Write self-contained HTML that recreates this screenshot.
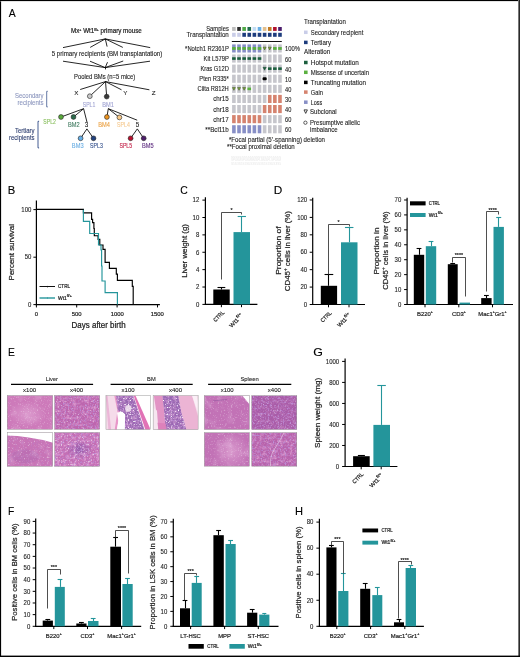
<!DOCTYPE html><html><head><meta charset="utf-8"><title>Figure</title><style>html,body{margin:0;padding:0;background:#fff;width:520px;height:657px;overflow:hidden;}svg{display:block;will-change:transform;}text{font-family:"Liberation Sans", sans-serif;}</style></head><body><svg width="520" height="657" viewBox="0 0 520 657" font-family='"Liberation Sans", sans-serif' shape-rendering="geometricPrecision"><rect x="0.00" y="0.00" width="520.00" height="657.00" fill="#fff"/>
<rect x="0.00" y="0.00" width="1.10" height="657.00" fill="#000"/>
<rect x="0.00" y="0.00" width="520.00" height="1.00" fill="#000"/>
<rect x="0.00" y="1.00" width="518.00" height="0.40" fill="#bbb"/>
<rect x="518.00" y="0.00" width="1.00" height="657.00" fill="#777"/>
<rect x="519.00" y="0.00" width="1.00" height="657.00" fill="#2a2a2a"/>
<rect x="0.00" y="655.60" width="520.00" height="1.40" fill="#000"/>
<defs><filter id="w1" x="0" y="0" width="100%" height="100%"><feTurbulence type="fractalNoise" baseFrequency="0.7" numOctaves="2" seed="3"/><feColorMatrix type="matrix" values="0 0 0 0 1  0 0 0 0 1  0 0 0 0 1  4 0 0 0 -2.3"/></filter><filter id="p1" x="0" y="0" width="100%" height="100%"><feTurbulence type="fractalNoise" baseFrequency="0.6" numOctaves="2" seed="5"/><feColorMatrix type="matrix" values="0 0 0 0 0.5  0 0 0 0 0.25  0 0 0 0 0.65  0 4 0 0 -2.1"/></filter><filter id="m1" x="0" y="0" width="100%" height="100%"><feTurbulence type="fractalNoise" baseFrequency="0.12" numOctaves="2" seed="9"/><feColorMatrix type="matrix" values="0 0 0 0 1  0 0 0 0 0.85  0 0 0 0 1  0 0 2 0 -1.0"/></filter><filter id="q1" x="0" y="0" width="100%" height="100%"><feTurbulence type="fractalNoise" baseFrequency="0.3" numOctaves="2" seed="11"/><feColorMatrix type="matrix" values="0 0 0 0 0.95  0 0 0 0 0.55  0 0 0 0 0.85  2.5 0 0 0 -1.1"/></filter><radialGradient id="rgl"><stop offset="0" stop-color="#e2a8d6" stop-opacity="0.7"/><stop offset="1" stop-color="#e2a8d6" stop-opacity="0"/></radialGradient><radialGradient id="rgp"><stop offset="0" stop-color="#8a58aa" stop-opacity="0.8"/><stop offset="1" stop-color="#8a58aa" stop-opacity="0"/></radialGradient></defs>
<text x="0" y="0" font-size="10.9" fill="#000" stroke="#000" stroke-width="0.12" transform="translate(8.68,16.70) scale(0.955,1)">A</text>
<text x="71" y="33.2" font-size="6.3" fill="#222" stroke="#222" stroke-width="0.2" textLength="70.8" lengthAdjust="spacingAndGlyphs">Mx<tspan font-size="3.6" dy="-2.4">+</tspan><tspan dy="2.4"> </tspan>Wt1<tspan font-size="3.4" dy="-2.6">fl/+</tspan><tspan dy="2.6"> primary mouse</tspan></text>
<line x1="105.30" y1="38.90" x2="63.00" y2="47.60" stroke="#000" stroke-width="0.85"/>
<line x1="105.30" y1="38.90" x2="90.20" y2="47.40" stroke="#000" stroke-width="0.85"/>
<line x1="105.30" y1="38.90" x2="107.10" y2="46.60" stroke="#000" stroke-width="0.85"/>
<line x1="105.30" y1="38.90" x2="122.80" y2="47.40" stroke="#000" stroke-width="0.85"/>
<line x1="105.30" y1="38.90" x2="150.20" y2="47.60" stroke="#000" stroke-width="0.85"/>
<text x="51.70" y="56.30" font-size="6.3" text-anchor="start" fill="#222" stroke="#222" stroke-width="0.1" textLength="110.60" lengthAdjust="spacingAndGlyphs">5 primary recipients (BM transplantation)</text>
<line x1="105.20" y1="67.60" x2="63.00" y2="61.20" stroke="#000" stroke-width="0.85"/>
<line x1="105.20" y1="67.60" x2="90.00" y2="61.20" stroke="#000" stroke-width="0.85"/>
<line x1="105.20" y1="67.60" x2="107.50" y2="62.20" stroke="#000" stroke-width="0.85"/>
<line x1="105.20" y1="67.60" x2="123.20" y2="61.00" stroke="#000" stroke-width="0.85"/>
<line x1="105.20" y1="67.60" x2="150.00" y2="61.20" stroke="#000" stroke-width="0.85"/>
<line x1="105.50" y1="67.60" x2="105.50" y2="69.40" stroke="#000" stroke-width="0.85"/>
<text x="74.00" y="78.50" font-size="6.3" text-anchor="start" fill="#222" stroke="#222" stroke-width="0.1" textLength="61.30" lengthAdjust="spacingAndGlyphs">Pooled BMs (n=5 mice)</text>
<line x1="105.50" y1="81.60" x2="80.20" y2="89.50" stroke="#000" stroke-width="0.85"/>
<line x1="105.50" y1="81.60" x2="89.80" y2="96.20" stroke="#000" stroke-width="0.85"/>
<line x1="105.50" y1="81.60" x2="106.70" y2="96.60" stroke="#000" stroke-width="0.85"/>
<line x1="105.50" y1="81.60" x2="121.50" y2="89.80" stroke="#000" stroke-width="0.85"/>
<line x1="105.50" y1="81.60" x2="149.40" y2="89.80" stroke="#000" stroke-width="0.85"/>
<text x="76.30" y="95.20" font-size="6.2" text-anchor="middle" fill="#222" stroke="#222" stroke-width="0.1">X</text>
<text x="125.40" y="95.20" font-size="6.2" text-anchor="middle" fill="#222" stroke="#222" stroke-width="0.1">Y</text>
<text x="153.70" y="95.20" font-size="6.2" text-anchor="middle" fill="#222" stroke="#222" stroke-width="0.1">Z</text>
<circle cx="89.80" cy="96.20" r="2.40" fill="#c9c9c9" stroke="#222" stroke-width="0.6"/>
<circle cx="106.70" cy="96.60" r="2.40" fill="#3a3a3a" stroke="#222" stroke-width="0.6"/>
<text x="89.00" y="106.60" font-size="6.3" text-anchor="middle" fill="#9fa2d2" stroke="#9fa2d2" stroke-width="0.1" textLength="12.50" lengthAdjust="spacingAndGlyphs">SPL1</text>
<text x="108.00" y="106.60" font-size="6.3" text-anchor="middle" fill="#9fa2d2" stroke="#9fa2d2" stroke-width="0.1" textLength="11.70" lengthAdjust="spacingAndGlyphs">BM1</text>
<line x1="83.60" y1="108.70" x2="61.00" y2="117.00" stroke="#000" stroke-width="0.85"/>
<line x1="83.60" y1="108.70" x2="73.50" y2="117.00" stroke="#000" stroke-width="0.85"/>
<line x1="83.60" y1="108.70" x2="87.00" y2="122.20" stroke="#000" stroke-width="0.85"/>
<line x1="108.30" y1="108.70" x2="106.90" y2="117.00" stroke="#000" stroke-width="0.85"/>
<line x1="108.30" y1="108.70" x2="119.40" y2="117.40" stroke="#000" stroke-width="0.85"/>
<line x1="108.30" y1="108.70" x2="137.20" y2="120.20" stroke="#000" stroke-width="0.85"/>
<circle cx="61.00" cy="117.00" r="2.40" fill="#5aab3c" stroke="#222" stroke-width="0.6"/>
<circle cx="73.50" cy="117.00" r="2.40" fill="#2d6b4c" stroke="#222" stroke-width="0.6"/>
<circle cx="106.90" cy="117.00" r="2.40" fill="#ec9420" stroke="#222" stroke-width="0.6"/>
<circle cx="119.40" cy="117.40" r="2.40" fill="#f7c887" stroke="#222" stroke-width="0.6"/>
<text x="49.60" y="123.50" font-size="6.3" text-anchor="middle" fill="#86bd5a" stroke="#86bd5a" stroke-width="0.1" textLength="12.50" lengthAdjust="spacingAndGlyphs">SPL2</text>
<text x="73.90" y="126.90" font-size="6.3" text-anchor="middle" fill="#3f7a5f" stroke="#3f7a5f" stroke-width="0.1" textLength="11.70" lengthAdjust="spacingAndGlyphs">BM2</text>
<text x="86.60" y="126.90" font-size="6.3" text-anchor="middle" fill="#222" stroke="#222" stroke-width="0.1">3</text>
<text x="104.10" y="126.90" font-size="6.3" text-anchor="middle" fill="#eba042" stroke="#eba042" stroke-width="0.1" textLength="11.70" lengthAdjust="spacingAndGlyphs">BM4</text>
<text x="123.40" y="126.90" font-size="6.3" text-anchor="middle" fill="#f5c98f" stroke="#f5c98f" stroke-width="0.1" textLength="12.80" lengthAdjust="spacingAndGlyphs">SPL4</text>
<text x="137.50" y="126.90" font-size="6.3" text-anchor="middle" fill="#222" stroke="#222" stroke-width="0.1">5</text>
<line x1="86.90" y1="128.90" x2="80.60" y2="138.30" stroke="#000" stroke-width="0.85"/>
<line x1="86.90" y1="128.90" x2="93.50" y2="138.30" stroke="#000" stroke-width="0.85"/>
<line x1="137.30" y1="128.90" x2="130.60" y2="138.30" stroke="#000" stroke-width="0.85"/>
<line x1="137.30" y1="128.90" x2="143.70" y2="138.30" stroke="#000" stroke-width="0.85"/>
<circle cx="80.60" cy="138.30" r="2.40" fill="#64aee6" stroke="#222" stroke-width="0.6"/>
<circle cx="93.50" cy="138.30" r="2.40" fill="#23427e" stroke="#222" stroke-width="0.6"/>
<circle cx="130.60" cy="138.30" r="2.40" fill="#b7122f" stroke="#222" stroke-width="0.6"/>
<circle cx="143.70" cy="138.30" r="2.40" fill="#4d1e6b" stroke="#222" stroke-width="0.6"/>
<text x="77.70" y="147.50" font-size="6.3" text-anchor="middle" fill="#6aaee3" stroke="#6aaee3" stroke-width="0.1" textLength="11.70" lengthAdjust="spacingAndGlyphs">BM3</text>
<text x="96.50" y="147.50" font-size="6.3" text-anchor="middle" fill="#34508c" stroke="#34508c" stroke-width="0.1" textLength="12.80" lengthAdjust="spacingAndGlyphs">SPL3</text>
<text x="125.80" y="147.50" font-size="6.3" text-anchor="middle" fill="#c21d45" stroke="#c21d45" stroke-width="0.1" textLength="12.80" lengthAdjust="spacingAndGlyphs">SPL5</text>
<text x="147.90" y="147.50" font-size="6.3" text-anchor="middle" fill="#5f2f80" stroke="#5f2f80" stroke-width="0.1" textLength="11.70" lengthAdjust="spacingAndGlyphs">BM5</text>
<text x="43.60" y="97.70" font-size="6.3" text-anchor="end" fill="#8e98bf" stroke="#8e98bf" stroke-width="0.1" textLength="28.60" lengthAdjust="spacingAndGlyphs">Secondary</text>
<text x="43.60" y="105.30" font-size="6.3" text-anchor="end" fill="#8e98bf" stroke="#8e98bf" stroke-width="0.1" textLength="26.00" lengthAdjust="spacingAndGlyphs">recipients</text>
<path d="M47.8,91.3 h-1.1 v15.6 h1.1" fill="none" stroke="#566b9d" stroke-width="0.9"/>
<text x="34.60" y="133.00" font-size="6.3" text-anchor="end" fill="#2b3c6e" stroke="#2b3c6e" stroke-width="0.1" textLength="19.60" lengthAdjust="spacingAndGlyphs">Tertiary</text>
<text x="34.60" y="140.40" font-size="6.3" text-anchor="end" fill="#2b3c6e" stroke="#2b3c6e" stroke-width="0.1" textLength="25.60" lengthAdjust="spacingAndGlyphs">recipients</text>
<path d="M39.1,121.3 h-1.1 v26.6 h1.1" fill="none" stroke="#2f4a86" stroke-width="0.9"/>
<rect x="232.10" y="27.00" width="3.60" height="3.90" fill="#bdbdbd"/>
<rect x="232.10" y="32.80" width="3.60" height="4.00" fill="#c9cde8"/>
<rect x="237.22" y="27.00" width="3.60" height="3.90" fill="#2e2e2e"/>
<rect x="237.22" y="32.80" width="3.60" height="4.00" fill="#c9cde8"/>
<rect x="242.34" y="27.00" width="3.60" height="3.90" fill="#4ea846"/>
<rect x="242.34" y="32.80" width="3.60" height="4.00" fill="#1d3c7d"/>
<rect x="247.46" y="27.00" width="3.60" height="3.90" fill="#1f6a4a"/>
<rect x="247.46" y="32.80" width="3.60" height="4.00" fill="#1d3c7d"/>
<rect x="252.58" y="27.00" width="3.60" height="3.90" fill="#c2dcf4"/>
<rect x="252.58" y="32.80" width="3.60" height="4.00" fill="#1d3c7d"/>
<rect x="257.70" y="27.00" width="3.60" height="3.90" fill="#66aee6"/>
<rect x="257.70" y="32.80" width="3.60" height="4.00" fill="#1d3c7d"/>
<rect x="262.82" y="27.00" width="3.60" height="3.90" fill="#e2bf8c"/>
<rect x="262.82" y="32.80" width="3.60" height="4.00" fill="#1d3c7d"/>
<rect x="267.94" y="27.00" width="3.60" height="3.90" fill="#c27b22"/>
<rect x="267.94" y="32.80" width="3.60" height="4.00" fill="#1d3c7d"/>
<rect x="273.06" y="27.00" width="3.60" height="3.90" fill="#b1102d"/>
<rect x="273.06" y="32.80" width="3.60" height="4.00" fill="#1d3c7d"/>
<rect x="278.18" y="27.00" width="3.60" height="3.90" fill="#4a1b6b"/>
<rect x="278.18" y="32.80" width="3.60" height="4.00" fill="#1d3c7d"/>
<line x1="231.80" y1="41.50" x2="281.80" y2="41.50" stroke="#111" stroke-width="1.0"/>
<text x="228.80" y="30.90" font-size="6.4" text-anchor="end" fill="#222" stroke="#222" stroke-width="0.1" textLength="22.60" lengthAdjust="spacingAndGlyphs">Samples</text>
<text x="228.80" y="36.60" font-size="6.4" text-anchor="end" fill="#222" stroke="#222" stroke-width="0.1" textLength="42.20" lengthAdjust="spacingAndGlyphs">Transplantation</text>
<text x="228.80" y="50.95" font-size="6.4" text-anchor="end" fill="#222" stroke="#222" stroke-width="0.1" textLength="43.70" lengthAdjust="spacingAndGlyphs">*Notch1 R2361P</text>
<text x="285.00" y="51.45" font-size="6.4" text-anchor="start" fill="#222" stroke="#222" stroke-width="0.1" textLength="15.00" lengthAdjust="spacingAndGlyphs">100%</text>
<rect x="232.10" y="44.40" width="3.60" height="8.10" fill="#888fc6"/>
<rect x="232.10" y="47.05" width="3.60" height="2.80" fill="#5bb040"/>
<rect x="237.22" y="44.40" width="3.60" height="8.10" fill="#888fc6"/>
<rect x="237.22" y="47.05" width="3.60" height="2.80" fill="#5bb040"/>
<rect x="242.34" y="44.40" width="3.60" height="8.10" fill="#888fc6"/>
<rect x="242.34" y="47.05" width="3.60" height="2.80" fill="#5bb040"/>
<rect x="247.46" y="44.40" width="3.60" height="8.10" fill="#888fc6"/>
<rect x="247.46" y="47.05" width="3.60" height="2.80" fill="#5bb040"/>
<rect x="252.58" y="44.40" width="3.60" height="8.10" fill="#888fc6"/>
<rect x="252.58" y="47.05" width="3.60" height="2.80" fill="#5bb040"/>
<rect x="257.70" y="44.40" width="3.60" height="8.10" fill="#888fc6"/>
<rect x="257.70" y="47.05" width="3.60" height="2.80" fill="#5bb040"/>
<rect x="262.82" y="44.40" width="3.60" height="8.10" fill="#c6c6cc"/>
<path d="M263.12,47.15 L266.12,47.15 L264.62,49.95 Z" fill="#7fae3a" stroke="#3d4a20" stroke-width="0.5"/>
<rect x="267.94" y="44.40" width="3.60" height="8.10" fill="#c6c6cc"/>
<path d="M268.24,47.15 L271.24,47.15 L269.74,49.95 Z" fill="#7fae3a" stroke="#3d4a20" stroke-width="0.5"/>
<rect x="273.06" y="44.40" width="3.60" height="8.10" fill="#c6c6cc"/>
<rect x="273.06" y="47.05" width="3.60" height="2.80" fill="#5bb040"/>
<rect x="278.18" y="44.40" width="3.60" height="8.10" fill="#c6c6cc"/>
<rect x="278.18" y="47.05" width="3.60" height="2.80" fill="#5bb040"/>
<text x="228.80" y="61.05" font-size="6.4" text-anchor="end" fill="#222" stroke="#222" stroke-width="0.1" textLength="25.20" lengthAdjust="spacingAndGlyphs">Kit L579P</text>
<text x="285.00" y="61.55" font-size="6.4" text-anchor="start" fill="#222" stroke="#222" stroke-width="0.1" textLength="6.30" lengthAdjust="spacingAndGlyphs">60</text>
<rect x="232.10" y="54.50" width="3.60" height="8.10" fill="#c6c6cc"/>
<rect x="232.10" y="57.25" width="3.60" height="2.60" fill="#1c5f3e"/>
<rect x="237.22" y="54.50" width="3.60" height="8.10" fill="#c6c6cc"/>
<rect x="237.22" y="57.25" width="3.60" height="2.60" fill="#1c5f3e"/>
<rect x="242.34" y="54.50" width="3.60" height="8.10" fill="#c6c6cc"/>
<rect x="242.34" y="57.25" width="3.60" height="2.60" fill="#1c5f3e"/>
<rect x="247.46" y="54.50" width="3.60" height="8.10" fill="#c6c6cc"/>
<rect x="247.46" y="57.25" width="3.60" height="2.60" fill="#1c5f3e"/>
<rect x="252.58" y="54.50" width="3.60" height="8.10" fill="#c6c6cc"/>
<rect x="252.58" y="57.25" width="3.60" height="2.60" fill="#1c5f3e"/>
<rect x="257.70" y="54.50" width="3.60" height="8.10" fill="#c6c6cc"/>
<rect x="257.70" y="57.25" width="3.60" height="2.60" fill="#1c5f3e"/>
<rect x="262.82" y="54.50" width="3.60" height="8.10" fill="#c6c6cc"/>
<rect x="267.94" y="54.50" width="3.60" height="8.10" fill="#c6c6cc"/>
<rect x="273.06" y="54.50" width="3.60" height="8.10" fill="#c6c6cc"/>
<rect x="278.18" y="54.50" width="3.60" height="8.10" fill="#c6c6cc"/>
<text x="228.80" y="71.15" font-size="6.4" text-anchor="end" fill="#222" stroke="#222" stroke-width="0.1" textLength="28.40" lengthAdjust="spacingAndGlyphs">Kras G12D</text>
<text x="285.00" y="71.65" font-size="6.4" text-anchor="start" fill="#222" stroke="#222" stroke-width="0.1" textLength="6.30" lengthAdjust="spacingAndGlyphs">40</text>
<rect x="232.10" y="64.60" width="3.60" height="8.10" fill="#c6c6cc"/>
<rect x="237.22" y="64.60" width="3.60" height="8.10" fill="#c6c6cc"/>
<rect x="242.34" y="64.60" width="3.60" height="8.10" fill="#c6c6cc"/>
<rect x="247.46" y="64.60" width="3.60" height="8.10" fill="#c6c6cc"/>
<rect x="252.58" y="64.60" width="3.60" height="8.10" fill="#c6c6cc"/>
<rect x="257.70" y="64.60" width="3.60" height="8.10" fill="#c6c6cc"/>
<rect x="262.82" y="64.60" width="3.60" height="8.10" fill="#c6c6cc"/>
<path d="M262.92,67.25 L266.32,67.25 L264.62,70.25 Z" fill="#1c5f3e" stroke="#153d2a" stroke-width="0.4"/>
<rect x="267.94" y="64.60" width="3.60" height="8.10" fill="#c6c6cc"/>
<rect x="267.94" y="67.35" width="3.60" height="2.60" fill="#1c5f3e"/>
<rect x="273.06" y="64.60" width="3.60" height="8.10" fill="#c6c6cc"/>
<rect x="273.06" y="67.35" width="3.60" height="2.60" fill="#1c5f3e"/>
<rect x="278.18" y="64.60" width="3.60" height="8.10" fill="#c6c6cc"/>
<rect x="278.18" y="67.35" width="3.60" height="2.60" fill="#1c5f3e"/>
<text x="228.80" y="81.25" font-size="6.4" text-anchor="end" fill="#222" stroke="#222" stroke-width="0.1" textLength="29.50" lengthAdjust="spacingAndGlyphs">Pten R335*</text>
<text x="285.00" y="81.75" font-size="6.4" text-anchor="start" fill="#222" stroke="#222" stroke-width="0.1" textLength="6.30" lengthAdjust="spacingAndGlyphs">10</text>
<rect x="232.10" y="74.70" width="3.60" height="8.10" fill="#c6c6cc"/>
<rect x="237.22" y="74.70" width="3.60" height="8.10" fill="#c6c6cc"/>
<rect x="242.34" y="74.70" width="3.60" height="8.10" fill="#c6c6cc"/>
<rect x="247.46" y="74.70" width="3.60" height="8.10" fill="#c6c6cc"/>
<rect x="252.58" y="74.70" width="3.60" height="8.10" fill="#c6c6cc"/>
<rect x="257.70" y="74.70" width="3.60" height="8.10" fill="#c6c6cc"/>
<rect x="262.82" y="74.70" width="3.60" height="8.10" fill="#c6c6cc"/>
<rect x="262.52" y="77.35" width="4.20" height="2.8" rx="1.2" fill="#000"/>
<rect x="267.94" y="74.70" width="3.60" height="8.10" fill="#c6c6cc"/>
<rect x="273.06" y="74.70" width="3.60" height="8.10" fill="#c6c6cc"/>
<rect x="278.18" y="74.70" width="3.60" height="8.10" fill="#c6c6cc"/>
<text x="228.80" y="91.35" font-size="6.4" text-anchor="end" fill="#222" stroke="#222" stroke-width="0.1" textLength="31.20" lengthAdjust="spacingAndGlyphs">Ciita R812H</text>
<text x="285.00" y="91.85" font-size="6.4" text-anchor="start" fill="#222" stroke="#222" stroke-width="0.1" textLength="6.30" lengthAdjust="spacingAndGlyphs">40</text>
<rect x="232.10" y="84.80" width="3.60" height="8.10" fill="#c6c6cc"/>
<path d="M232.40,87.55 L235.40,87.55 L233.90,90.35 Z" fill="#7fae3a" stroke="#3d4a20" stroke-width="0.5"/>
<rect x="237.22" y="84.80" width="3.60" height="8.10" fill="#c6c6cc"/>
<path d="M237.52,87.55 L240.52,87.55 L239.02,90.35 Z" fill="#7fae3a" stroke="#3d4a20" stroke-width="0.5"/>
<rect x="242.34" y="84.80" width="3.60" height="8.10" fill="#c6c6cc"/>
<path d="M242.64,87.55 L245.64,87.55 L244.14,90.35 Z" fill="#7fae3a" stroke="#3d4a20" stroke-width="0.5"/>
<rect x="247.46" y="84.80" width="3.60" height="8.10" fill="#c6c6cc"/>
<rect x="247.46" y="87.55" width="3.60" height="2.60" fill="#5bb040"/>
<rect x="252.58" y="84.80" width="3.60" height="8.10" fill="#c6c6cc"/>
<rect x="257.70" y="84.80" width="3.60" height="8.10" fill="#c6c6cc"/>
<rect x="262.82" y="84.80" width="3.60" height="8.10" fill="#c6c6cc"/>
<rect x="267.94" y="84.80" width="3.60" height="8.10" fill="#c6c6cc"/>
<rect x="273.06" y="84.80" width="3.60" height="8.10" fill="#c6c6cc"/>
<rect x="278.18" y="84.80" width="3.60" height="8.10" fill="#c6c6cc"/>
<text x="228.80" y="101.45" font-size="6.4" text-anchor="end" fill="#222" stroke="#222" stroke-width="0.1" textLength="15.60" lengthAdjust="spacingAndGlyphs">chr15</text>
<text x="285.00" y="101.95" font-size="6.4" text-anchor="start" fill="#222" stroke="#222" stroke-width="0.1" textLength="6.30" lengthAdjust="spacingAndGlyphs">30</text>
<rect x="232.10" y="94.90" width="3.60" height="8.10" fill="#c6c6cc"/>
<rect x="237.22" y="94.90" width="3.60" height="8.10" fill="#c6c6cc"/>
<rect x="242.34" y="94.90" width="3.60" height="8.10" fill="#c6c6cc"/>
<rect x="247.46" y="94.90" width="3.60" height="8.10" fill="#c6c6cc"/>
<rect x="252.58" y="94.90" width="3.60" height="8.10" fill="#c6c6cc"/>
<rect x="257.70" y="94.90" width="3.60" height="8.10" fill="#c6c6cc"/>
<rect x="262.82" y="94.90" width="3.60" height="8.10" fill="#c6c6cc"/>
<rect x="267.94" y="94.90" width="3.60" height="8.10" fill="#d5836f"/>
<rect x="273.06" y="94.90" width="3.60" height="8.10" fill="#d5836f"/>
<rect x="278.18" y="94.90" width="3.60" height="8.10" fill="#d5836f"/>
<text x="228.80" y="111.55" font-size="6.4" text-anchor="end" fill="#222" stroke="#222" stroke-width="0.1" textLength="15.60" lengthAdjust="spacingAndGlyphs">chr18</text>
<text x="285.00" y="112.05" font-size="6.4" text-anchor="start" fill="#222" stroke="#222" stroke-width="0.1" textLength="6.30" lengthAdjust="spacingAndGlyphs">40</text>
<rect x="232.10" y="105.00" width="3.60" height="8.10" fill="#c6c6cc"/>
<rect x="237.22" y="105.00" width="3.60" height="8.10" fill="#c6c6cc"/>
<rect x="242.34" y="105.00" width="3.60" height="8.10" fill="#c6c6cc"/>
<rect x="247.46" y="105.00" width="3.60" height="8.10" fill="#c6c6cc"/>
<rect x="252.58" y="105.00" width="3.60" height="8.10" fill="#c6c6cc"/>
<rect x="257.70" y="105.00" width="3.60" height="8.10" fill="#c6c6cc"/>
<rect x="262.82" y="105.00" width="3.60" height="8.10" fill="#d5836f"/>
<rect x="267.94" y="105.00" width="3.60" height="8.10" fill="#d5836f"/>
<rect x="273.06" y="105.00" width="3.60" height="8.10" fill="#d5836f"/>
<rect x="278.18" y="105.00" width="3.60" height="8.10" fill="#d5836f"/>
<text x="228.80" y="121.65" font-size="6.4" text-anchor="end" fill="#222" stroke="#222" stroke-width="0.1" textLength="15.60" lengthAdjust="spacingAndGlyphs">chr17</text>
<text x="285.00" y="122.15" font-size="6.4" text-anchor="start" fill="#222" stroke="#222" stroke-width="0.1" textLength="6.30" lengthAdjust="spacingAndGlyphs">60</text>
<rect x="232.10" y="115.10" width="3.60" height="8.10" fill="#d5836f"/>
<rect x="237.22" y="115.10" width="3.60" height="8.10" fill="#d5836f"/>
<rect x="242.34" y="115.10" width="3.60" height="8.10" fill="#d5836f"/>
<rect x="247.46" y="115.10" width="3.60" height="8.10" fill="#d5836f"/>
<rect x="252.58" y="115.10" width="3.60" height="8.10" fill="#d5836f"/>
<rect x="257.70" y="115.10" width="3.60" height="8.10" fill="#d5836f"/>
<rect x="262.82" y="115.10" width="3.60" height="8.10" fill="#c6c6cc"/>
<rect x="267.94" y="115.10" width="3.60" height="8.10" fill="#c6c6cc"/>
<rect x="273.06" y="115.10" width="3.60" height="8.10" fill="#c6c6cc"/>
<rect x="278.18" y="115.10" width="3.60" height="8.10" fill="#c6c6cc"/>
<text x="228.80" y="131.75" font-size="6.4" text-anchor="end" fill="#222" stroke="#222" stroke-width="0.1" textLength="23.50" lengthAdjust="spacingAndGlyphs">**Bcl11b</text>
<text x="285.00" y="132.25" font-size="6.4" text-anchor="start" fill="#222" stroke="#222" stroke-width="0.1" textLength="6.30" lengthAdjust="spacingAndGlyphs">60</text>
<rect x="232.10" y="125.20" width="3.60" height="8.10" fill="#888fc6"/>
<rect x="237.22" y="125.20" width="3.60" height="8.10" fill="#888fc6"/>
<rect x="242.34" y="125.20" width="3.60" height="8.10" fill="#888fc6"/>
<rect x="247.46" y="125.20" width="3.60" height="8.10" fill="#888fc6"/>
<rect x="252.58" y="125.20" width="3.60" height="8.10" fill="#888fc6"/>
<rect x="257.70" y="125.20" width="3.60" height="8.10" fill="#888fc6"/>
<rect x="262.82" y="125.20" width="3.60" height="8.10" fill="#c6c6cc"/>
<rect x="267.94" y="125.20" width="3.60" height="8.10" fill="#c6c6cc"/>
<rect x="273.06" y="125.20" width="3.60" height="8.10" fill="#c6c6cc"/>
<rect x="278.18" y="125.20" width="3.60" height="8.10" fill="#c6c6cc"/>
<text x="304.00" y="24.20" font-size="6.4" text-anchor="start" fill="#222" stroke="#222" stroke-width="0.1" textLength="41.80" lengthAdjust="spacingAndGlyphs">Transplantation</text>
<rect x="304.00" y="30.55" width="3.60" height="3.50" fill="#c9cde8"/>
<text x="310.80" y="34.90" font-size="6.4" text-anchor="start" fill="#222" stroke="#222" stroke-width="0.1" textLength="52.50" lengthAdjust="spacingAndGlyphs">Secondary recipient</text>
<rect x="304.00" y="40.65" width="3.60" height="3.50" fill="#1d3c7d"/>
<text x="310.80" y="45.00" font-size="6.4" text-anchor="start" fill="#222" stroke="#222" stroke-width="0.1" textLength="20.20" lengthAdjust="spacingAndGlyphs">Tertiary</text>
<text x="304.00" y="54.20" font-size="6.4" text-anchor="start" fill="#222" stroke="#222" stroke-width="0.1" textLength="26.30" lengthAdjust="spacingAndGlyphs">Alteration</text>
<rect x="304.00" y="60.75" width="3.60" height="3.50" fill="#1c5f3e"/>
<text x="310.80" y="65.10" font-size="6.4" text-anchor="start" fill="#222" stroke="#222" stroke-width="0.1" textLength="48.00" lengthAdjust="spacingAndGlyphs">Hotspot mutation</text>
<rect x="304.00" y="70.55" width="3.60" height="3.50" fill="#5bb040"/>
<text x="310.80" y="74.90" font-size="6.4" text-anchor="start" fill="#222" stroke="#222" stroke-width="0.1" textLength="58.20" lengthAdjust="spacingAndGlyphs">Missense of uncertain</text>
<rect x="304.00" y="80.65" width="3.60" height="3.50" fill="#000"/>
<text x="310.80" y="85.00" font-size="6.4" text-anchor="start" fill="#222" stroke="#222" stroke-width="0.1" textLength="55.10" lengthAdjust="spacingAndGlyphs">Truncating mutation</text>
<rect x="304.00" y="90.35" width="3.60" height="3.50" fill="#d5836f"/>
<text x="310.80" y="94.70" font-size="6.4" text-anchor="start" fill="#222" stroke="#222" stroke-width="0.1" textLength="12.10" lengthAdjust="spacingAndGlyphs">Gain</text>
<rect x="304.00" y="100.45" width="3.60" height="3.50" fill="#888fc6"/>
<text x="310.80" y="104.80" font-size="6.4" text-anchor="start" fill="#222" stroke="#222" stroke-width="0.1" textLength="11.40" lengthAdjust="spacingAndGlyphs">Loss</text>
<path d="M304.00,109.90 L307.40,109.90 L305.70,113.40 Z" fill="none" stroke="#222" stroke-width="0.85"/>
<text x="310.10" y="114.20" font-size="6.4" text-anchor="start" fill="#222" stroke="#222" stroke-width="0.1" textLength="26.50" lengthAdjust="spacingAndGlyphs">Subclonal</text>
<circle cx="305.40" cy="122.70" r="1.65" fill="none" stroke="#333" stroke-width="0.8"/>
<text x="310.10" y="125.30" font-size="6.4" text-anchor="start" fill="#222" stroke="#222" stroke-width="0.1" textLength="49.80" lengthAdjust="spacingAndGlyphs">Presumptive allelic</text>
<text x="310.10" y="132.00" font-size="6.4" text-anchor="start" fill="#222" stroke="#222" stroke-width="0.1" textLength="27.60" lengthAdjust="spacingAndGlyphs">imbalance</text>
<text x="229.00" y="141.70" font-size="6.4" text-anchor="start" fill="#222" stroke="#222" stroke-width="0.1" textLength="96.00" lengthAdjust="spacingAndGlyphs">*Focal partial (5’-spanning) deletion</text>
<text x="227.00" y="149.20" font-size="6.4" text-anchor="start" fill="#222" stroke="#222" stroke-width="0.1" textLength="67.70" lengthAdjust="spacingAndGlyphs">**Focal proximal deletion</text>
<g fill="#cfcfcf" font-size="3.0" opacity="0.55">
<text x="231" y="157.6" textLength="50" lengthAdjust="spacingAndGlyphs">ssssssssssssssssssssssss</text>
<text x="231" y="161.2" textLength="50" lengthAdjust="spacingAndGlyphs">SPLBMSPLBMBMSPLBMSPLSPLBM</text>
<text x="231" y="165.0" textLength="50" lengthAdjust="spacingAndGlyphs">S5S3S5S3S5S3S5S3S5S3S5S3S5</text>
</g>
<text x="0" y="0" font-size="10.9" fill="#000" stroke="#000" stroke-width="0.12" transform="translate(7.78,193.70) scale(1.033,1)">B</text>
<line x1="36.40" y1="200.60" x2="36.40" y2="305.20" stroke="#000" stroke-width="1.2"/>
<line x1="33.40" y1="209.60" x2="36.40" y2="209.60" stroke="#000" stroke-width="1.0"/>
<text x="31.40" y="211.85" font-size="6.3" text-anchor="end" fill="#222" stroke="#222" stroke-width="0.1" textLength="10.05" lengthAdjust="spacingAndGlyphs">100</text>
<line x1="33.40" y1="257.20" x2="36.40" y2="257.20" stroke="#000" stroke-width="1.0"/>
<text x="31.40" y="259.45" font-size="6.3" text-anchor="end" fill="#222" stroke="#222" stroke-width="0.1" textLength="6.70" lengthAdjust="spacingAndGlyphs">50</text>
<line x1="33.40" y1="304.60" x2="36.40" y2="304.60" stroke="#000" stroke-width="1.0"/>
<text x="31.40" y="306.85" font-size="6.3" text-anchor="end" fill="#222" stroke="#222" stroke-width="0.1" textLength="3.35" lengthAdjust="spacingAndGlyphs">0</text>
<line x1="35.80" y1="304.65" x2="159.90" y2="304.65" stroke="#000" stroke-width="1.2"/>
<line x1="36.40" y1="304.65" x2="36.40" y2="307.45" stroke="#000" stroke-width="1.0"/>
<line x1="76.70" y1="304.65" x2="76.70" y2="307.45" stroke="#000" stroke-width="1.0"/>
<line x1="117.10" y1="304.65" x2="117.10" y2="307.45" stroke="#000" stroke-width="1.0"/>
<line x1="157.50" y1="304.65" x2="157.50" y2="307.45" stroke="#000" stroke-width="1.0"/>
<text x="36.30" y="316.40" font-size="5.9" text-anchor="middle" fill="#222" stroke="#222" stroke-width="0.2">0</text>
<text x="76.70" y="316.40" font-size="5.9" text-anchor="middle" fill="#222" stroke="#222" stroke-width="0.2">500</text>
<text x="117.30" y="316.40" font-size="5.9" text-anchor="middle" fill="#222" stroke="#222" stroke-width="0.2">1000</text>
<text x="157.30" y="316.40" font-size="5.9" text-anchor="middle" fill="#222" stroke="#222" stroke-width="0.2">1500</text>
<text x="71.60" y="327.70" font-size="8.2" text-anchor="start" fill="#1a1a1a" stroke="#1a1a1a" stroke-width="0.22" textLength="54.00" lengthAdjust="spacingAndGlyphs">Days after birth</text>
<text x="14.40" y="252.20" font-size="8.1" text-anchor="middle" fill="#222" stroke="#222" stroke-width="0.22" transform="rotate(-90 14.40 252.20)" textLength="56.40" lengthAdjust="spacingAndGlyphs">Percent survival</text>
<polyline points="36.30,209.40 83.40,209.40 83.40,212.90 91.60,212.90 91.60,219.40 92.60,219.40 92.60,222.60 93.90,222.60 93.90,228.50 94.30,228.50 94.30,235.70 98.10,235.70 98.10,239.30 99.80,239.30 99.80,245.00 103.00,245.00 103.00,249.40 105.10,249.40 105.10,262.40 109.40,262.40 109.40,268.30 116.30,268.30 116.30,274.10 117.40,274.10 117.40,280.30 132.30,280.30 132.30,286.40 133.20,286.40 133.20,304.40" fill="none" stroke="#000" stroke-width="1.15"/>
<polyline points="83.40,209.80 83.40,221.30 89.70,221.30 89.70,233.50 98.50,233.50 98.50,245.00 101.00,245.00 101.00,250.00 101.60,250.00 101.60,266.00 102.00,266.00 102.00,281.00 105.10,281.00 105.10,292.60 117.40,292.60 117.40,304.40" fill="none" stroke="#24959b" stroke-width="1.15"/>
<line x1="39.50" y1="286.50" x2="55.00" y2="286.50" stroke="#111" stroke-width="1.0"/>
<line x1="47.50" y1="285.90" x2="47.50" y2="287.50" stroke="#111" stroke-width="0.6"/>
<text x="58.00" y="288.40" font-size="4.7" text-anchor="start" fill="#222" stroke="#222" stroke-width="0.2" textLength="12.10" lengthAdjust="spacingAndGlyphs">CTRL</text>
<line x1="39.50" y1="298.00" x2="55.00" y2="298.00" stroke="#24959b" stroke-width="1.4"/>
<line x1="47.50" y1="297.20" x2="47.50" y2="298.80" stroke="#24959b" stroke-width="0.6"/>
<text x="58.00" y="299.70" font-size="4.7" fill="#222" stroke="#222" stroke-width="0.2" textLength="13.80" lengthAdjust="spacingAndGlyphs">Wt1<tspan font-size="3.5" dy="-2.3">fl/+</tspan></text>
<text x="0" y="0" font-size="10.9" fill="#000" stroke="#000" stroke-width="0.12" transform="translate(180.18,193.60) scale(0.954,1)">C</text>
<line x1="205.40" y1="197.20" x2="205.40" y2="305.00" stroke="#000" stroke-width="1.2"/>
<line x1="202.40" y1="304.40" x2="205.40" y2="304.40" stroke="#000" stroke-width="1.0"/>
<text x="199.30" y="306.65" font-size="6.3" text-anchor="end" fill="#222" stroke="#222" stroke-width="0.1" textLength="3.35" lengthAdjust="spacingAndGlyphs">0</text>
<line x1="202.40" y1="287.02" x2="205.40" y2="287.02" stroke="#000" stroke-width="1.0"/>
<text x="199.30" y="289.27" font-size="6.3" text-anchor="end" fill="#222" stroke="#222" stroke-width="0.1" textLength="3.35" lengthAdjust="spacingAndGlyphs">2</text>
<line x1="202.40" y1="269.64" x2="205.40" y2="269.64" stroke="#000" stroke-width="1.0"/>
<text x="199.30" y="271.89" font-size="6.3" text-anchor="end" fill="#222" stroke="#222" stroke-width="0.1" textLength="3.35" lengthAdjust="spacingAndGlyphs">4</text>
<line x1="202.40" y1="252.26" x2="205.40" y2="252.26" stroke="#000" stroke-width="1.0"/>
<text x="199.30" y="254.51" font-size="6.3" text-anchor="end" fill="#222" stroke="#222" stroke-width="0.1" textLength="3.35" lengthAdjust="spacingAndGlyphs">6</text>
<line x1="202.40" y1="234.88" x2="205.40" y2="234.88" stroke="#000" stroke-width="1.0"/>
<text x="199.30" y="237.13" font-size="6.3" text-anchor="end" fill="#222" stroke="#222" stroke-width="0.1" textLength="3.35" lengthAdjust="spacingAndGlyphs">8</text>
<line x1="202.40" y1="217.50" x2="205.40" y2="217.50" stroke="#000" stroke-width="1.0"/>
<text x="199.30" y="219.75" font-size="6.3" text-anchor="end" fill="#222" stroke="#222" stroke-width="0.1" textLength="6.70" lengthAdjust="spacingAndGlyphs">10</text>
<line x1="202.40" y1="200.12" x2="205.40" y2="200.12" stroke="#000" stroke-width="1.0"/>
<text x="199.30" y="202.37" font-size="6.3" text-anchor="end" fill="#222" stroke="#222" stroke-width="0.1" textLength="6.70" lengthAdjust="spacingAndGlyphs">12</text>
<line x1="204.80" y1="304.40" x2="257.40" y2="304.40" stroke="#000" stroke-width="1.2"/>
<line x1="221.40" y1="304.40" x2="221.40" y2="307.20" stroke="#000" stroke-width="1.0"/>
<line x1="241.50" y1="304.40" x2="241.50" y2="307.20" stroke="#000" stroke-width="1.0"/>
<rect x="213.30" y="289.50" width="16.40" height="14.90" fill="#000"/>
<line x1="221.50" y1="289.50" x2="221.50" y2="287.40" stroke="#000" stroke-width="1.1"/>
<line x1="217.50" y1="287.50" x2="225.30" y2="287.50" stroke="#000" stroke-width="1.1"/>
<rect x="233.50" y="232.10" width="16.50" height="72.30" fill="#24959b"/>
<line x1="241.50" y1="232.10" x2="241.50" y2="216.20" stroke="#24959b" stroke-width="1.1"/>
<line x1="237.65" y1="216.50" x2="245.95" y2="216.50" stroke="#24959b" stroke-width="1.1"/>
<polyline points="221.50,279.50 221.50,212.50 241.50,212.50 241.50,214.50" fill="none" stroke="#222" stroke-width="0.8"/>
<text x="231.60" y="212.13" font-size="5.4" text-anchor="middle" fill="#111" stroke="#111" stroke-width="0.15">*</text>
<text x="186.60" y="250.90" font-size="8.1" text-anchor="middle" fill="#222" stroke="#222" stroke-width="0.22" transform="rotate(-90 186.60 250.90)" textLength="53.80" lengthAdjust="spacingAndGlyphs">Liver weight (g)</text>
<text x="224.60" y="313.00" font-size="5.6" text-anchor="end" fill="#222" stroke="#222" stroke-width="0.2" transform="rotate(-45 224.60 313.00)" textLength="13.00" lengthAdjust="spacingAndGlyphs">CTRL</text>
<text x="243.50" y="316.00" font-size="5.6" text-anchor="end" fill="#222" stroke="#222" stroke-width="0.2" transform="rotate(-45 243.50 316.00)" textLength="17.00" lengthAdjust="spacingAndGlyphs">Wt1<tspan font-size="3.9" dy="-2.7">fl/+</tspan></text>
<text x="0" y="0" font-size="10.9" fill="#000" stroke="#000" stroke-width="0.12" transform="translate(273.83,193.80) scale(1.083,1)">D</text>
<line x1="312.70" y1="197.70" x2="312.70" y2="305.10" stroke="#000" stroke-width="1.2"/>
<line x1="309.70" y1="304.50" x2="312.70" y2="304.50" stroke="#000" stroke-width="1.0"/>
<text x="307.20" y="306.75" font-size="6.3" text-anchor="end" fill="#222" stroke="#222" stroke-width="0.1" textLength="3.35" lengthAdjust="spacingAndGlyphs">0</text>
<line x1="309.70" y1="287.08" x2="312.70" y2="287.08" stroke="#000" stroke-width="1.0"/>
<text x="307.20" y="289.33" font-size="6.3" text-anchor="end" fill="#222" stroke="#222" stroke-width="0.1" textLength="6.70" lengthAdjust="spacingAndGlyphs">20</text>
<line x1="309.70" y1="269.66" x2="312.70" y2="269.66" stroke="#000" stroke-width="1.0"/>
<text x="307.20" y="271.91" font-size="6.3" text-anchor="end" fill="#222" stroke="#222" stroke-width="0.1" textLength="6.70" lengthAdjust="spacingAndGlyphs">40</text>
<line x1="309.70" y1="252.24" x2="312.70" y2="252.24" stroke="#000" stroke-width="1.0"/>
<text x="307.20" y="254.49" font-size="6.3" text-anchor="end" fill="#222" stroke="#222" stroke-width="0.1" textLength="6.70" lengthAdjust="spacingAndGlyphs">60</text>
<line x1="309.70" y1="234.82" x2="312.70" y2="234.82" stroke="#000" stroke-width="1.0"/>
<text x="307.20" y="237.07" font-size="6.3" text-anchor="end" fill="#222" stroke="#222" stroke-width="0.1" textLength="6.70" lengthAdjust="spacingAndGlyphs">80</text>
<line x1="309.70" y1="217.40" x2="312.70" y2="217.40" stroke="#000" stroke-width="1.0"/>
<text x="307.20" y="219.65" font-size="6.3" text-anchor="end" fill="#222" stroke="#222" stroke-width="0.1" textLength="10.05" lengthAdjust="spacingAndGlyphs">100</text>
<line x1="309.70" y1="199.98" x2="312.70" y2="199.98" stroke="#000" stroke-width="1.0"/>
<text x="307.20" y="202.23" font-size="6.3" text-anchor="end" fill="#222" stroke="#222" stroke-width="0.1" textLength="10.05" lengthAdjust="spacingAndGlyphs">120</text>
<line x1="312.10" y1="304.50" x2="365.00" y2="304.50" stroke="#000" stroke-width="1.2"/>
<line x1="328.50" y1="304.50" x2="328.50" y2="307.30" stroke="#000" stroke-width="1.0"/>
<line x1="349.00" y1="304.50" x2="349.00" y2="307.30" stroke="#000" stroke-width="1.0"/>
<rect x="320.80" y="285.80" width="16.30" height="18.70" fill="#000"/>
<line x1="328.50" y1="285.80" x2="328.50" y2="274.40" stroke="#000" stroke-width="1.1"/>
<line x1="324.55" y1="274.50" x2="333.25" y2="274.50" stroke="#000" stroke-width="1.1"/>
<rect x="341.00" y="242.30" width="16.50" height="62.20" fill="#24959b"/>
<line x1="349.50" y1="242.30" x2="349.50" y2="227.90" stroke="#24959b" stroke-width="1.1"/>
<line x1="344.95" y1="227.50" x2="353.45" y2="227.50" stroke="#24959b" stroke-width="1.1"/>
<polyline points="328.50,274.50 328.50,224.50 349.50,224.50 349.50,226.50" fill="none" stroke="#222" stroke-width="0.8"/>
<text x="338.65" y="223.93" font-size="5.4" text-anchor="middle" fill="#111" stroke="#111" stroke-width="0.15">*</text>
<text x="281.20" y="250.60" font-size="8.1" text-anchor="middle" fill="#222" stroke="#222" stroke-width="0.22" transform="rotate(-90 281.20 250.60)" textLength="48.30" lengthAdjust="spacingAndGlyphs">Proportion of</text>
<text x="290.40" y="251.10" font-size="8.1" text-anchor="middle" fill="#222" stroke="#222" stroke-width="0.22" transform="rotate(-90 290.40 251.10)" textLength="80.20" lengthAdjust="spacingAndGlyphs">CD45<tspan font-size="4.8" dy="-3">+</tspan><tspan dy="3"> cells in liver (%)</tspan></text>
<text x="332.00" y="313.50" font-size="5.6" text-anchor="end" fill="#222" stroke="#222" stroke-width="0.2" transform="rotate(-45 332.00 313.50)" textLength="13.00" lengthAdjust="spacingAndGlyphs">CTRL</text>
<text x="351.50" y="315.50" font-size="5.6" text-anchor="end" fill="#222" stroke="#222" stroke-width="0.2" transform="rotate(-45 351.50 315.50)" textLength="17.00" lengthAdjust="spacingAndGlyphs">Wt1<tspan font-size="3.9" dy="-2.7">fl/+</tspan></text>
<line x1="407.10" y1="197.70" x2="407.10" y2="305.10" stroke="#000" stroke-width="1.2"/>
<line x1="404.10" y1="304.50" x2="407.10" y2="304.50" stroke="#000" stroke-width="1.0"/>
<text x="401.30" y="306.75" font-size="6.3" text-anchor="end" fill="#222" stroke="#222" stroke-width="0.1" textLength="3.35" lengthAdjust="spacingAndGlyphs">0</text>
<line x1="404.10" y1="289.57" x2="407.10" y2="289.57" stroke="#000" stroke-width="1.0"/>
<text x="401.30" y="291.82" font-size="6.3" text-anchor="end" fill="#222" stroke="#222" stroke-width="0.1" textLength="6.70" lengthAdjust="spacingAndGlyphs">10</text>
<line x1="404.10" y1="274.64" x2="407.10" y2="274.64" stroke="#000" stroke-width="1.0"/>
<text x="401.30" y="276.89" font-size="6.3" text-anchor="end" fill="#222" stroke="#222" stroke-width="0.1" textLength="6.70" lengthAdjust="spacingAndGlyphs">20</text>
<line x1="404.10" y1="259.71" x2="407.10" y2="259.71" stroke="#000" stroke-width="1.0"/>
<text x="401.30" y="261.96" font-size="6.3" text-anchor="end" fill="#222" stroke="#222" stroke-width="0.1" textLength="6.70" lengthAdjust="spacingAndGlyphs">30</text>
<line x1="404.10" y1="244.78" x2="407.10" y2="244.78" stroke="#000" stroke-width="1.0"/>
<text x="401.30" y="247.03" font-size="6.3" text-anchor="end" fill="#222" stroke="#222" stroke-width="0.1" textLength="6.70" lengthAdjust="spacingAndGlyphs">40</text>
<line x1="404.10" y1="229.85" x2="407.10" y2="229.85" stroke="#000" stroke-width="1.0"/>
<text x="401.30" y="232.10" font-size="6.3" text-anchor="end" fill="#222" stroke="#222" stroke-width="0.1" textLength="6.70" lengthAdjust="spacingAndGlyphs">50</text>
<line x1="404.10" y1="214.92" x2="407.10" y2="214.92" stroke="#000" stroke-width="1.0"/>
<text x="401.30" y="217.17" font-size="6.3" text-anchor="end" fill="#222" stroke="#222" stroke-width="0.1" textLength="6.70" lengthAdjust="spacingAndGlyphs">60</text>
<line x1="404.10" y1="199.99" x2="407.10" y2="199.99" stroke="#000" stroke-width="1.0"/>
<text x="401.30" y="202.24" font-size="6.3" text-anchor="end" fill="#222" stroke="#222" stroke-width="0.1" textLength="6.70" lengthAdjust="spacingAndGlyphs">70</text>
<line x1="406.50" y1="304.50" x2="513.00" y2="304.50" stroke="#000" stroke-width="1.2"/>
<line x1="425.00" y1="304.50" x2="425.00" y2="307.30" stroke="#000" stroke-width="1.0"/>
<line x1="458.80" y1="304.50" x2="458.80" y2="307.30" stroke="#000" stroke-width="1.0"/>
<line x1="492.50" y1="304.50" x2="492.50" y2="307.30" stroke="#000" stroke-width="1.0"/>
<rect x="410.00" y="201.30" width="15.60" height="4.10" fill="#000"/>
<text x="428.80" y="205.00" font-size="4.7" text-anchor="start" fill="#222" stroke="#222" stroke-width="0.2" textLength="11.20" lengthAdjust="spacingAndGlyphs">CTRL</text>
<rect x="410.00" y="213.00" width="15.60" height="4.00" fill="#24959b"/>
<text x="428.80" y="216.70" font-size="4.7" fill="#222" stroke="#222" stroke-width="0.2" textLength="14.10" lengthAdjust="spacingAndGlyphs">Wt1<tspan font-size="3.5" dy="-2.3">fl/+</tspan></text>
<rect x="413.80" y="254.80" width="10.40" height="49.70" fill="#000"/>
<line x1="419.50" y1="254.80" x2="419.50" y2="248.50" stroke="#000" stroke-width="1.1"/>
<line x1="416.60" y1="248.50" x2="421.40" y2="248.50" stroke="#000" stroke-width="1.1"/>
<rect x="425.80" y="246.20" width="10.40" height="58.30" fill="#24959b"/>
<line x1="431.50" y1="246.20" x2="431.50" y2="241.70" stroke="#24959b" stroke-width="1.1"/>
<line x1="428.60" y1="241.50" x2="433.40" y2="241.50" stroke="#24959b" stroke-width="1.1"/>
<rect x="447.80" y="264.20" width="9.90" height="40.30" fill="#000"/>
<line x1="452.50" y1="264.20" x2="452.50" y2="263.00" stroke="#000" stroke-width="1.1"/>
<line x1="450.30" y1="263.50" x2="455.10" y2="263.50" stroke="#000" stroke-width="1.1"/>
<rect x="459.50" y="302.60" width="10.50" height="1.90" fill="#24959b"/>
<rect x="481.20" y="298.10" width="10.40" height="6.40" fill="#000"/>
<line x1="486.50" y1="298.10" x2="486.50" y2="295.80" stroke="#000" stroke-width="1.1"/>
<line x1="484.00" y1="295.50" x2="488.80" y2="295.50" stroke="#000" stroke-width="1.1"/>
<rect x="493.50" y="226.90" width="10.40" height="77.60" fill="#24959b"/>
<line x1="498.50" y1="226.90" x2="498.50" y2="217.20" stroke="#24959b" stroke-width="1.1"/>
<line x1="496.20" y1="217.50" x2="501.20" y2="217.50" stroke="#24959b" stroke-width="1.1"/>
<polyline points="452.50,262.50 452.50,257.50 465.50,257.50 465.50,296.50" fill="none" stroke="#222" stroke-width="0.8"/>
<text x="458.90" y="257.13" font-size="5.4" text-anchor="middle" fill="#111" stroke="#111" stroke-width="0.15">****</text>
<polyline points="486.50,291.50 486.50,211.50 498.50,211.50 498.50,214.50" fill="none" stroke="#222" stroke-width="0.8"/>
<text x="492.65" y="211.83" font-size="5.4" text-anchor="middle" fill="#111" stroke="#111" stroke-width="0.15">****</text>
<text x="425.00" y="316.30" font-size="5.9" text-anchor="middle" fill="#222" stroke="#222" stroke-width="0.2">B220<tspan font-size="3.6" dy="-2.9">+</tspan></text>
<text x="458.90" y="316.30" font-size="5.9" text-anchor="middle" fill="#222" stroke="#222" stroke-width="0.2">CD3<tspan font-size="3.6" dy="-2.9">+</tspan></text>
<text x="492.50" y="316.30" font-size="5.9" text-anchor="middle" fill="#222" stroke="#222" stroke-width="0.2">Mac1<tspan font-size="3.6" dy="-2.9">+</tspan><tspan dy="2.9">Gr1</tspan><tspan font-size="3.6" dy="-2.9">+</tspan></text>
<text x="378.70" y="251.00" font-size="8.1" text-anchor="middle" fill="#222" stroke="#222" stroke-width="0.22" transform="rotate(-90 378.70 251.00)" textLength="47.20" lengthAdjust="spacingAndGlyphs">Proportion in</text>
<text x="388.20" y="250.60" font-size="8.1" text-anchor="middle" fill="#222" stroke="#222" stroke-width="0.22" transform="rotate(-90 388.20 250.60)" textLength="78.40" lengthAdjust="spacingAndGlyphs">CD45<tspan font-size="4.8" dy="-3">+</tspan><tspan dy="3"> cells in liver (%)</tspan></text>
<text x="0" y="0" font-size="10.9" fill="#000" stroke="#000" stroke-width="0.12" transform="translate(8.05,355.80) scale(0.946,1)">E</text>
<text x="51.80" y="380.80" font-size="6.2" text-anchor="middle" fill="#222" stroke="#222" stroke-width="0.1" textLength="12.10" lengthAdjust="spacingAndGlyphs">Liver</text>
<line x1="11.00" y1="384.40" x2="93.10" y2="384.40" stroke="#000" stroke-width="1.4"/>
<text x="29.60" y="392.20" font-size="6.2" text-anchor="middle" fill="#222" stroke="#222" stroke-width="0.1" textLength="13.00" lengthAdjust="spacingAndGlyphs">x100</text>
<text x="76.60" y="392.20" font-size="6.2" text-anchor="middle" fill="#222" stroke="#222" stroke-width="0.1" textLength="13.00" lengthAdjust="spacingAndGlyphs">x400</text>
<text x="151.40" y="380.90" font-size="6.2" text-anchor="middle" fill="#222" stroke="#222" stroke-width="0.1" textLength="8.60" lengthAdjust="spacingAndGlyphs">BM</text>
<line x1="110.60" y1="384.40" x2="192.70" y2="384.40" stroke="#000" stroke-width="1.4"/>
<text x="128.10" y="392.20" font-size="6.2" text-anchor="middle" fill="#222" stroke="#222" stroke-width="0.1" textLength="13.00" lengthAdjust="spacingAndGlyphs">x100</text>
<text x="175.50" y="392.20" font-size="6.2" text-anchor="middle" fill="#222" stroke="#222" stroke-width="0.1" textLength="13.00" lengthAdjust="spacingAndGlyphs">x400</text>
<text x="249.60" y="380.90" font-size="6.2" text-anchor="middle" fill="#222" stroke="#222" stroke-width="0.1" textLength="18.30" lengthAdjust="spacingAndGlyphs">Spleen</text>
<line x1="208.10" y1="384.40" x2="291.30" y2="384.40" stroke="#000" stroke-width="1.4"/>
<text x="227.20" y="392.20" font-size="6.2" text-anchor="middle" fill="#222" stroke="#222" stroke-width="0.1" textLength="13.00" lengthAdjust="spacingAndGlyphs">x100</text>
<text x="274.30" y="392.20" font-size="6.2" text-anchor="middle" fill="#222" stroke="#222" stroke-width="0.1" textLength="13.00" lengthAdjust="spacingAndGlyphs">x400</text>
<clipPath id="cp1"><rect x="7.00" y="395.30" width="45.90" height="34.30"/></clipPath>
<g clip-path="url(#cp1)">
<rect x="7.00" y="395.30" width="45.90" height="34.30" fill="#cd7aba"/>
<ellipse cx="27.66" cy="414.17" rx="18.36" ry="13.03" fill="url(#rgl)"/>
<g opacity="0.25"><rect x="7.00" y="395.30" width="45.90" height="34.30" filter="url(#m1)"/></g>
<g opacity="0.3"><rect x="7.00" y="395.30" width="45.90" height="34.30" filter="url(#w1)"/></g>
</g>
<rect x="7.25" y="395.55" width="45.40" height="33.80" fill="none" stroke="#9a9a9a" stroke-width="0.5"/>
<clipPath id="cp2"><rect x="54.40" y="395.30" width="45.50" height="34.30"/></clipPath>
<g clip-path="url(#cp2)">
<rect x="54.40" y="395.30" width="45.50" height="34.30" fill="#bd66ae"/>
<g opacity="0.45"><rect x="54.40" y="395.30" width="45.50" height="34.30" filter="url(#q1)"/></g>
<rect x="54.40" y="395.30" width="45.50" height="34.30" filter="url(#p1)"/>
<g opacity="0.45"><rect x="54.40" y="395.30" width="45.50" height="34.30" filter="url(#w1)"/></g>
</g>
<rect x="54.65" y="395.55" width="45.00" height="33.80" fill="none" stroke="#9a9a9a" stroke-width="0.5"/>
<clipPath id="cp3"><rect x="7.00" y="432.30" width="45.90" height="34.30"/></clipPath>
<g clip-path="url(#cp3)">
<rect x="7.00" y="432.30" width="45.90" height="34.30" fill="#c874b6"/>
<ellipse cx="25.36" cy="456.31" rx="13.77" ry="6.86" fill="#a868b0" opacity="0.35"/>
<g opacity="0.3"><rect x="7.00" y="432.30" width="45.90" height="34.30" filter="url(#m1)"/></g>
<g opacity="0.4"><rect x="7.00" y="432.30" width="45.90" height="34.30" filter="url(#w1)"/><rect x="7.00" y="432.30" width="45.90" height="34.30" filter="url(#p1)"/></g>
<path d="M6.00,431.30 L53.90,431.30 L53.90,442.90 Q27.00,435.70 6.00,435.60 Z" fill="#fff"/>
</g>
<rect x="7.25" y="432.55" width="45.40" height="33.80" fill="none" stroke="#9a9a9a" stroke-width="0.5"/>
<clipPath id="cp4"><rect x="54.40" y="432.30" width="45.50" height="34.30"/></clipPath>
<g clip-path="url(#cp4)">
<rect x="54.40" y="432.30" width="45.50" height="34.30" fill="#c46eb4"/>
<ellipse cx="79.42" cy="449.45" rx="13.65" ry="10.29" fill="url(#rgp)"/>
<g opacity="0.6"><rect x="54.40" y="432.30" width="45.50" height="34.30" filter="url(#q1)"/></g>
<rect x="54.40" y="432.30" width="45.50" height="34.30" filter="url(#p1)"/>
<g opacity="0.6"><rect x="54.40" y="432.30" width="45.50" height="34.30" filter="url(#w1)"/></g>
</g>
<rect x="54.65" y="432.55" width="45.00" height="33.80" fill="none" stroke="#9a9a9a" stroke-width="0.5"/>
<clipPath id="cp5"><rect x="105.70" y="395.40" width="45.10" height="34.30"/></clipPath>
<g clip-path="url(#cp5)">
<rect x="105.70" y="395.40" width="45.10" height="34.30" fill="#fff"/>
<path d="M105.70,395.40 L116.52,395.40 L119.23,410.83 L116.52,429.70 L105.70,429.70 Z" fill="#f5dbea" opacity="1"/>
<path d="M105.70,395.40 L107.50,395.40 L111.11,429.70 L108.41,429.70 Z" fill="#e7a6cf" opacity="0.7"/>
<path d="M114.27,395.40 L116.52,395.40 L120.13,410.83 L116.98,429.70 L114.72,429.70 L117.43,410.83 Z" fill="#e58bc3" opacity="0.85"/>
<path d="M116.07,395.40 L133.21,395.40 L144.49,429.70 L124.64,429.70 L125.09,414.26 L121.94,412.55 L117.88,410.83 Z" fill="#9a68b2" opacity="1"/>
<clipPath id="mc5"><path d="M116.07,395.40 L133.21,395.40 L144.49,429.70 L124.64,429.70 L125.09,414.26 L121.94,412.55 L117.88,410.83 Z"/></clipPath>
<g clip-path="url(#mc5)"><rect x="105.70" y="395.40" width="45.10" height="34.30" filter="url(#p1)"/><rect x="105.70" y="395.40" width="45.10" height="34.30" filter="url(#w1)"/><g opacity="0.5"><rect x="105.70" y="395.40" width="45.10" height="34.30" filter="url(#q1)"/></g></g>
<ellipse cx="128.25" cy="408.43" rx="3.16" ry="3.43" fill="#f4e6f2" opacity="0.85"/>
<path d="M116.98,412.55 L122.39,411.86 L125.09,414.61 L124.64,429.70 L116.98,429.70 L118.33,421.12 Z" fill="#fff" opacity="1"/>
<path d="M133.66,395.40 L135.47,395.40 L149.90,427.98 L149.90,429.70 L145.39,429.70 Z" fill="#e172b6" opacity="1"/>
</g>
<rect x="105.95" y="395.65" width="44.60" height="33.80" fill="none" stroke="#9a9a9a" stroke-width="0.5"/>
<clipPath id="cp9"><rect x="152.90" y="395.40" width="45.50" height="34.30"/></clipPath>
<g clip-path="url(#cp9)">
<rect x="152.90" y="395.40" width="45.50" height="34.30" fill="#f4dcea"/>
<path d="M153.81,395.40 L162.46,395.40 L164.28,412.55 L165.64,429.70 L157.45,429.70 L156.54,412.55 Z" fill="#e294c5" opacity="1"/>
<path d="M152.90,407.40 L157.00,410.83 L158.36,429.70 L152.90,429.70 Z" fill="#f6e6f0" opacity="1"/>
<path d="M162.46,395.40 L178.38,395.40 L181.56,412.55 L186.57,429.70 L165.64,429.70 L164.28,412.55 Z" fill="#9a68b2" opacity="1"/>
<clipPath id="mc9"><path d="M162.46,395.40 L178.38,395.40 L181.56,412.55 L186.57,429.70 L165.64,429.70 L164.28,412.55 Z"/></clipPath>
<g clip-path="url(#mc9)"><rect x="152.90" y="395.40" width="45.50" height="34.30" filter="url(#p1)"/><rect x="152.90" y="395.40" width="45.50" height="34.30" filter="url(#w1)"/><g opacity="0.5"><rect x="152.90" y="395.40" width="45.50" height="34.30" filter="url(#q1)"/></g></g>
<path d="M178.38,395.40 L192.03,395.40 L197.94,415.98 L197.94,429.70 L186.57,429.70 L181.56,412.55 Z" fill="#ecb4d4" opacity="1"/>
<path d="M192.03,395.40 L196.58,395.40 L197.94,402.26 L197.94,412.55 Z" fill="#fbf0f7" opacity="1"/>
<path d="M157.45,422.84 L165.64,423.53 L166.55,429.70 L158.36,429.70 Z" fill="#dc7cb8" opacity="0.8"/>
</g>
<rect x="153.15" y="395.65" width="45.00" height="33.80" fill="none" stroke="#9a9a9a" stroke-width="0.5"/>
<clipPath id="cp6"><rect x="204.10" y="395.40" width="45.50" height="34.30"/></clipPath>
<g clip-path="url(#cp6)">
<rect x="204.10" y="395.40" width="45.50" height="34.30" fill="#c272b6"/>
<g opacity="0.3"><rect x="204.10" y="395.40" width="45.50" height="34.30" filter="url(#m1)"/></g>
<g opacity="0.3"><rect x="204.10" y="395.40" width="45.50" height="34.30" filter="url(#w1)"/></g>
<path d="M241.41,394.40 L250.60,394.40 L250.60,405.69 Z" fill="#fff"/>
<path d="M213.20,400.89 L226.85,399.52" stroke="#6a3a8a" stroke-width="0.5" opacity="0.7"/>
</g>
<rect x="204.35" y="395.65" width="45.00" height="33.80" fill="none" stroke="#9a9a9a" stroke-width="0.5"/>
<clipPath id="cp7"><rect x="251.50" y="395.40" width="45.50" height="34.30"/></clipPath>
<g clip-path="url(#cp7)">
<rect x="251.50" y="395.40" width="45.50" height="34.30" fill="#a95ca8"/>
<g opacity="0.25"><rect x="251.50" y="395.40" width="45.50" height="34.30" filter="url(#q1)"/></g>
<rect x="251.50" y="395.40" width="45.50" height="34.30" filter="url(#p1)"/>
<g opacity="0.3"><rect x="251.50" y="395.40" width="45.50" height="34.30" filter="url(#w1)"/></g>
</g>
<rect x="251.75" y="395.65" width="45.00" height="33.80" fill="none" stroke="#9a9a9a" stroke-width="0.5"/>
<clipPath id="cp8"><rect x="204.10" y="432.40" width="45.50" height="34.00"/></clipPath>
<g clip-path="url(#cp8)">
<rect x="204.10" y="432.40" width="45.50" height="34.00" fill="#c272b6"/>
<ellipse cx="231.40" cy="451.10" rx="18.20" ry="18.70" fill="url(#rgl)"/>
<g opacity="0.3"><rect x="204.10" y="432.40" width="45.50" height="34.00" filter="url(#m1)"/></g>
<g opacity="0.3"><rect x="204.10" y="432.40" width="45.50" height="34.00" filter="url(#w1)"/></g>
</g>
<rect x="204.35" y="432.65" width="45.00" height="33.50" fill="none" stroke="#9a9a9a" stroke-width="0.5"/>
<clipPath id="cp10"><rect x="251.50" y="432.40" width="45.50" height="34.00"/></clipPath>
<g clip-path="url(#cp10)">
<rect x="251.50" y="432.40" width="45.50" height="34.00" fill="#b863ac"/>
<g opacity="0.45"><rect x="251.50" y="432.40" width="45.50" height="34.00" filter="url(#q1)"/></g>
<rect x="251.50" y="432.40" width="45.50" height="34.00" filter="url(#p1)"/>
<g opacity="0.3"><rect x="251.50" y="432.40" width="45.50" height="34.00" filter="url(#w1)"/></g>
<path d="M284.26,432.40 Q278.80,442.60 274.25,449.40 T270.61,466.40" stroke="#e8d0ec" stroke-width="0.8" fill="none" opacity="0.8"/>
</g>
<rect x="251.75" y="432.65" width="45.00" height="33.50" fill="none" stroke="#9a9a9a" stroke-width="0.5"/>
<text x="0" y="0" font-size="10.9" fill="#000" stroke="#000" stroke-width="0.12" transform="translate(313.18,355.60) scale(1.136,1)">G</text>
<line x1="345.10" y1="358.50" x2="345.10" y2="467.10" stroke="#000" stroke-width="1.2"/>
<line x1="342.10" y1="466.50" x2="345.10" y2="466.50" stroke="#000" stroke-width="1.0"/>
<text x="339.20" y="468.75" font-size="6.3" text-anchor="end" fill="#222" stroke="#222" stroke-width="0.1" textLength="3.35" lengthAdjust="spacingAndGlyphs">0</text>
<line x1="342.10" y1="445.48" x2="345.10" y2="445.48" stroke="#000" stroke-width="1.0"/>
<text x="339.20" y="447.73" font-size="6.3" text-anchor="end" fill="#222" stroke="#222" stroke-width="0.1" textLength="10.05" lengthAdjust="spacingAndGlyphs">200</text>
<line x1="342.10" y1="424.46" x2="345.10" y2="424.46" stroke="#000" stroke-width="1.0"/>
<text x="339.20" y="426.71" font-size="6.3" text-anchor="end" fill="#222" stroke="#222" stroke-width="0.1" textLength="10.05" lengthAdjust="spacingAndGlyphs">400</text>
<line x1="342.10" y1="403.44" x2="345.10" y2="403.44" stroke="#000" stroke-width="1.0"/>
<text x="339.20" y="405.69" font-size="6.3" text-anchor="end" fill="#222" stroke="#222" stroke-width="0.1" textLength="10.05" lengthAdjust="spacingAndGlyphs">600</text>
<line x1="342.10" y1="382.42" x2="345.10" y2="382.42" stroke="#000" stroke-width="1.0"/>
<text x="339.20" y="384.67" font-size="6.3" text-anchor="end" fill="#222" stroke="#222" stroke-width="0.1" textLength="10.05" lengthAdjust="spacingAndGlyphs">800</text>
<line x1="342.10" y1="361.40" x2="345.10" y2="361.40" stroke="#000" stroke-width="1.0"/>
<text x="339.20" y="363.65" font-size="6.3" text-anchor="end" fill="#222" stroke="#222" stroke-width="0.1" textLength="13.40" lengthAdjust="spacingAndGlyphs">1000</text>
<line x1="344.50" y1="466.50" x2="397.40" y2="466.50" stroke="#000" stroke-width="1.2"/>
<line x1="361.20" y1="466.50" x2="361.20" y2="469.30" stroke="#000" stroke-width="1.0"/>
<line x1="381.20" y1="466.50" x2="381.20" y2="469.30" stroke="#000" stroke-width="1.0"/>
<rect x="353.10" y="456.20" width="16.60" height="10.30" fill="#000"/>
<line x1="361.50" y1="456.20" x2="361.50" y2="455.50" stroke="#000" stroke-width="1.1"/>
<line x1="357.90" y1="455.50" x2="364.90" y2="455.50" stroke="#000" stroke-width="1.1"/>
<rect x="373.40" y="424.90" width="16.60" height="41.60" fill="#24959b"/>
<line x1="381.50" y1="424.90" x2="381.50" y2="385.00" stroke="#24959b" stroke-width="1.1"/>
<line x1="377.35" y1="385.50" x2="385.85" y2="385.50" stroke="#24959b" stroke-width="1.1"/>
<text x="319.60" y="412.90" font-size="8.1" text-anchor="middle" fill="#222" stroke="#222" stroke-width="0.22" transform="rotate(-90 319.60 412.90)" textLength="70.10" lengthAdjust="spacingAndGlyphs">Spleen weight (mg)</text>
<text x="363.80" y="474.80" font-size="5.6" text-anchor="end" fill="#222" stroke="#222" stroke-width="0.2" transform="rotate(-45 363.80 474.80)" textLength="13.00" lengthAdjust="spacingAndGlyphs">CTRL</text>
<text x="383.80" y="476.00" font-size="5.6" text-anchor="end" fill="#222" stroke="#222" stroke-width="0.2" transform="rotate(-45 383.80 476.00)" textLength="17.00" lengthAdjust="spacingAndGlyphs">Wt1<tspan font-size="3.9" dy="-2.7">fl/+</tspan></text>
<text x="0" y="0" font-size="10.9" fill="#000" stroke="#000" stroke-width="0.12" transform="translate(7.96,514.80) scale(0.938,1)">F</text>
<line x1="35.70" y1="518.50" x2="35.70" y2="626.90" stroke="#000" stroke-width="1.2"/>
<line x1="32.70" y1="626.30" x2="35.70" y2="626.30" stroke="#000" stroke-width="1.0"/>
<text x="30.30" y="628.55" font-size="6.3" text-anchor="end" fill="#222" stroke="#222" stroke-width="0.1" textLength="3.35" lengthAdjust="spacingAndGlyphs">0</text>
<line x1="32.70" y1="614.64" x2="35.70" y2="614.64" stroke="#000" stroke-width="1.0"/>
<text x="30.30" y="616.89" font-size="6.3" text-anchor="end" fill="#222" stroke="#222" stroke-width="0.1" textLength="6.70" lengthAdjust="spacingAndGlyphs">10</text>
<line x1="32.70" y1="602.99" x2="35.70" y2="602.99" stroke="#000" stroke-width="1.0"/>
<text x="30.30" y="605.24" font-size="6.3" text-anchor="end" fill="#222" stroke="#222" stroke-width="0.1" textLength="6.70" lengthAdjust="spacingAndGlyphs">20</text>
<line x1="32.70" y1="591.33" x2="35.70" y2="591.33" stroke="#000" stroke-width="1.0"/>
<text x="30.30" y="593.58" font-size="6.3" text-anchor="end" fill="#222" stroke="#222" stroke-width="0.1" textLength="6.70" lengthAdjust="spacingAndGlyphs">30</text>
<line x1="32.70" y1="579.68" x2="35.70" y2="579.68" stroke="#000" stroke-width="1.0"/>
<text x="30.30" y="581.93" font-size="6.3" text-anchor="end" fill="#222" stroke="#222" stroke-width="0.1" textLength="6.70" lengthAdjust="spacingAndGlyphs">40</text>
<line x1="32.70" y1="568.02" x2="35.70" y2="568.02" stroke="#000" stroke-width="1.0"/>
<text x="30.30" y="570.27" font-size="6.3" text-anchor="end" fill="#222" stroke="#222" stroke-width="0.1" textLength="6.70" lengthAdjust="spacingAndGlyphs">50</text>
<line x1="32.70" y1="556.37" x2="35.70" y2="556.37" stroke="#000" stroke-width="1.0"/>
<text x="30.30" y="558.62" font-size="6.3" text-anchor="end" fill="#222" stroke="#222" stroke-width="0.1" textLength="6.70" lengthAdjust="spacingAndGlyphs">60</text>
<line x1="32.70" y1="544.71" x2="35.70" y2="544.71" stroke="#000" stroke-width="1.0"/>
<text x="30.30" y="546.96" font-size="6.3" text-anchor="end" fill="#222" stroke="#222" stroke-width="0.1" textLength="6.70" lengthAdjust="spacingAndGlyphs">70</text>
<line x1="32.70" y1="533.06" x2="35.70" y2="533.06" stroke="#000" stroke-width="1.0"/>
<text x="30.30" y="535.31" font-size="6.3" text-anchor="end" fill="#222" stroke="#222" stroke-width="0.1" textLength="6.70" lengthAdjust="spacingAndGlyphs">80</text>
<line x1="32.70" y1="521.40" x2="35.70" y2="521.40" stroke="#000" stroke-width="1.0"/>
<text x="30.30" y="523.65" font-size="6.3" text-anchor="end" fill="#222" stroke="#222" stroke-width="0.1" textLength="6.70" lengthAdjust="spacingAndGlyphs">90</text>
<line x1="35.10" y1="626.30" x2="141.20" y2="626.30" stroke="#000" stroke-width="1.2"/>
<line x1="53.80" y1="626.30" x2="53.80" y2="629.10" stroke="#000" stroke-width="1.0"/>
<line x1="87.50" y1="626.30" x2="87.50" y2="629.10" stroke="#000" stroke-width="1.0"/>
<line x1="121.60" y1="626.30" x2="121.60" y2="629.10" stroke="#000" stroke-width="1.0"/>
<rect x="42.70" y="620.60" width="10.20" height="5.70" fill="#000"/>
<line x1="47.50" y1="620.60" x2="47.50" y2="619.20" stroke="#000" stroke-width="1.1"/>
<line x1="45.40" y1="619.50" x2="50.20" y2="619.50" stroke="#000" stroke-width="1.1"/>
<rect x="54.80" y="586.90" width="10.00" height="39.40" fill="#24959b"/>
<line x1="60.50" y1="586.90" x2="60.50" y2="579.00" stroke="#24959b" stroke-width="1.1"/>
<line x1="57.60" y1="579.50" x2="62.40" y2="579.50" stroke="#24959b" stroke-width="1.1"/>
<rect x="76.30" y="623.50" width="10.20" height="2.80" fill="#000"/>
<line x1="81.50" y1="623.50" x2="81.50" y2="622.00" stroke="#000" stroke-width="1.1"/>
<line x1="79.00" y1="622.50" x2="83.80" y2="622.50" stroke="#000" stroke-width="1.1"/>
<rect x="88.00" y="621.00" width="10.50" height="5.30" fill="#24959b"/>
<line x1="93.50" y1="621.00" x2="93.50" y2="618.70" stroke="#24959b" stroke-width="1.1"/>
<line x1="90.80" y1="618.50" x2="95.60" y2="618.50" stroke="#24959b" stroke-width="1.1"/>
<rect x="110.30" y="546.70" width="10.70" height="79.60" fill="#000"/>
<line x1="115.50" y1="546.70" x2="115.50" y2="537.30" stroke="#000" stroke-width="1.1"/>
<line x1="113.20" y1="537.50" x2="118.00" y2="537.50" stroke="#000" stroke-width="1.1"/>
<rect x="122.40" y="584.00" width="10.30" height="42.30" fill="#24959b"/>
<line x1="127.50" y1="584.00" x2="127.50" y2="578.90" stroke="#24959b" stroke-width="1.1"/>
<line x1="125.10" y1="578.50" x2="129.90" y2="578.50" stroke="#24959b" stroke-width="1.1"/>
<polyline points="47.50,608.50 47.50,569.50 60.50,569.50 60.50,574.50" fill="none" stroke="#222" stroke-width="0.8"/>
<text x="53.85" y="568.93" font-size="5.4" text-anchor="middle" fill="#111" stroke="#111" stroke-width="0.15">***</text>
<polyline points="115.50,537.50 115.50,530.50 128.50,530.50 128.50,573.50" fill="none" stroke="#222" stroke-width="0.8"/>
<text x="122.00" y="530.23" font-size="5.4" text-anchor="middle" fill="#111" stroke="#111" stroke-width="0.15">****</text>
<text x="53.80" y="638.10" font-size="5.9" text-anchor="middle" fill="#222" stroke="#222" stroke-width="0.2">B220<tspan font-size="3.6" dy="-2.9">+</tspan></text>
<text x="87.50" y="638.10" font-size="5.9" text-anchor="middle" fill="#222" stroke="#222" stroke-width="0.2">CD3<tspan font-size="3.6" dy="-2.9">+</tspan></text>
<text x="121.60" y="638.10" font-size="5.9" text-anchor="middle" fill="#222" stroke="#222" stroke-width="0.2">Mac1<tspan font-size="3.6" dy="-2.9">+</tspan><tspan dy="2.9">Gr1</tspan><tspan font-size="3.6" dy="-2.9">+</tspan></text>
<text x="17.40" y="572.10" font-size="8.1" text-anchor="middle" fill="#222" stroke="#222" stroke-width="0.22" transform="rotate(-90 17.40 572.10)" textLength="97.40" lengthAdjust="spacingAndGlyphs">Positive cells in BM cells (%)</text>
<line x1="173.30" y1="518.80" x2="173.30" y2="626.90" stroke="#000" stroke-width="1.2"/>
<line x1="170.30" y1="626.30" x2="173.30" y2="626.30" stroke="#000" stroke-width="1.0"/>
<text x="167.30" y="628.55" font-size="6.3" text-anchor="end" fill="#222" stroke="#222" stroke-width="0.1" textLength="3.35" lengthAdjust="spacingAndGlyphs">0</text>
<line x1="170.30" y1="611.39" x2="173.30" y2="611.39" stroke="#000" stroke-width="1.0"/>
<text x="167.30" y="613.64" font-size="6.3" text-anchor="end" fill="#222" stroke="#222" stroke-width="0.1" textLength="6.70" lengthAdjust="spacingAndGlyphs">10</text>
<line x1="170.30" y1="596.48" x2="173.30" y2="596.48" stroke="#000" stroke-width="1.0"/>
<text x="167.30" y="598.73" font-size="6.3" text-anchor="end" fill="#222" stroke="#222" stroke-width="0.1" textLength="6.70" lengthAdjust="spacingAndGlyphs">20</text>
<line x1="170.30" y1="581.57" x2="173.30" y2="581.57" stroke="#000" stroke-width="1.0"/>
<text x="167.30" y="583.82" font-size="6.3" text-anchor="end" fill="#222" stroke="#222" stroke-width="0.1" textLength="6.70" lengthAdjust="spacingAndGlyphs">30</text>
<line x1="170.30" y1="566.66" x2="173.30" y2="566.66" stroke="#000" stroke-width="1.0"/>
<text x="167.30" y="568.91" font-size="6.3" text-anchor="end" fill="#222" stroke="#222" stroke-width="0.1" textLength="6.70" lengthAdjust="spacingAndGlyphs">40</text>
<line x1="170.30" y1="551.75" x2="173.30" y2="551.75" stroke="#000" stroke-width="1.0"/>
<text x="167.30" y="554.00" font-size="6.3" text-anchor="end" fill="#222" stroke="#222" stroke-width="0.1" textLength="6.70" lengthAdjust="spacingAndGlyphs">50</text>
<line x1="170.30" y1="536.84" x2="173.30" y2="536.84" stroke="#000" stroke-width="1.0"/>
<text x="167.30" y="539.09" font-size="6.3" text-anchor="end" fill="#222" stroke="#222" stroke-width="0.1" textLength="6.70" lengthAdjust="spacingAndGlyphs">60</text>
<line x1="170.30" y1="521.93" x2="173.30" y2="521.93" stroke="#000" stroke-width="1.0"/>
<text x="167.30" y="524.18" font-size="6.3" text-anchor="end" fill="#222" stroke="#222" stroke-width="0.1" textLength="6.70" lengthAdjust="spacingAndGlyphs">70</text>
<line x1="172.70" y1="626.30" x2="278.50" y2="626.30" stroke="#000" stroke-width="1.2"/>
<line x1="190.60" y1="626.30" x2="190.60" y2="629.10" stroke="#000" stroke-width="1.0"/>
<line x1="224.60" y1="626.30" x2="224.60" y2="629.10" stroke="#000" stroke-width="1.0"/>
<line x1="258.30" y1="626.30" x2="258.30" y2="629.10" stroke="#000" stroke-width="1.0"/>
<rect x="180.00" y="608.30" width="10.00" height="18.00" fill="#000"/>
<line x1="185.50" y1="608.30" x2="185.50" y2="600.20" stroke="#000" stroke-width="1.1"/>
<line x1="182.60" y1="600.50" x2="187.40" y2="600.50" stroke="#000" stroke-width="1.1"/>
<rect x="191.70" y="582.90" width="10.00" height="43.40" fill="#24959b"/>
<line x1="196.50" y1="582.90" x2="196.50" y2="576.70" stroke="#24959b" stroke-width="1.1"/>
<line x1="194.30" y1="576.50" x2="199.10" y2="576.50" stroke="#24959b" stroke-width="1.1"/>
<rect x="213.40" y="535.20" width="10.40" height="91.10" fill="#000"/>
<line x1="218.50" y1="535.20" x2="218.50" y2="530.60" stroke="#000" stroke-width="1.1"/>
<line x1="216.20" y1="530.50" x2="221.00" y2="530.50" stroke="#000" stroke-width="1.1"/>
<rect x="225.50" y="544.00" width="10.20" height="82.30" fill="#24959b"/>
<line x1="230.50" y1="544.00" x2="230.50" y2="540.00" stroke="#24959b" stroke-width="1.1"/>
<line x1="228.20" y1="540.50" x2="233.00" y2="540.50" stroke="#24959b" stroke-width="1.1"/>
<rect x="247.10" y="612.70" width="10.20" height="13.60" fill="#000"/>
<line x1="252.50" y1="612.70" x2="252.50" y2="609.40" stroke="#000" stroke-width="1.1"/>
<line x1="249.80" y1="609.50" x2="254.60" y2="609.50" stroke="#000" stroke-width="1.1"/>
<rect x="259.20" y="614.60" width="10.20" height="11.70" fill="#24959b"/>
<line x1="264.50" y1="614.60" x2="264.50" y2="613.60" stroke="#24959b" stroke-width="1.1"/>
<line x1="262.30" y1="613.50" x2="266.30" y2="613.50" stroke="#24959b" stroke-width="1.1"/>
<polyline points="184.50,600.50 184.50,573.50 196.50,573.50 196.50,575.50" fill="none" stroke="#222" stroke-width="0.8"/>
<text x="190.65" y="573.23" font-size="5.4" text-anchor="middle" fill="#111" stroke="#111" stroke-width="0.15">***</text>
<text x="190.60" y="638.00" font-size="5.9" text-anchor="middle" fill="#222" stroke="#222" stroke-width="0.2">LT-HSC</text>
<text x="224.60" y="638.00" font-size="5.9" text-anchor="middle" fill="#222" stroke="#222" stroke-width="0.2">MPP</text>
<text x="258.30" y="638.00" font-size="5.9" text-anchor="middle" fill="#222" stroke="#222" stroke-width="0.2">ST-HSC</text>
<rect x="188.50" y="644.00" width="15.30" height="4.70" fill="#000"/>
<text x="207.30" y="648.00" font-size="4.7" text-anchor="start" fill="#222" stroke="#222" stroke-width="0.2" textLength="11.50" lengthAdjust="spacingAndGlyphs">CTRL</text>
<rect x="229.40" y="644.00" width="15.40" height="4.70" fill="#24959b"/>
<text x="247.70" y="648.00" font-size="4.7" fill="#222" stroke="#222" stroke-width="0.2" textLength="14.30" lengthAdjust="spacingAndGlyphs">Wt1<tspan font-size="3.5" dy="-2.3">fl/+</tspan></text>
<text x="154.80" y="572.40" font-size="8.1" text-anchor="middle" fill="#222" stroke="#222" stroke-width="0.22" transform="rotate(-90 154.80 572.40)" textLength="114.30" lengthAdjust="spacingAndGlyphs">Proportion in LSK cells in BM (%)</text>
<text x="0" y="0" font-size="10.9" fill="#000" stroke="#000" stroke-width="0.12" transform="translate(294.89,514.80) scale(1.018,1)">H</text>
<line x1="319.40" y1="518.80" x2="319.40" y2="626.90" stroke="#000" stroke-width="1.2"/>
<line x1="316.40" y1="626.30" x2="319.40" y2="626.30" stroke="#000" stroke-width="1.0"/>
<text x="313.40" y="628.55" font-size="6.3" text-anchor="end" fill="#222" stroke="#222" stroke-width="0.1" textLength="3.35" lengthAdjust="spacingAndGlyphs">0</text>
<line x1="316.40" y1="600.25" x2="319.40" y2="600.25" stroke="#000" stroke-width="1.0"/>
<text x="313.40" y="602.50" font-size="6.3" text-anchor="end" fill="#222" stroke="#222" stroke-width="0.1" textLength="6.70" lengthAdjust="spacingAndGlyphs">20</text>
<line x1="316.40" y1="574.20" x2="319.40" y2="574.20" stroke="#000" stroke-width="1.0"/>
<text x="313.40" y="576.45" font-size="6.3" text-anchor="end" fill="#222" stroke="#222" stroke-width="0.1" textLength="6.70" lengthAdjust="spacingAndGlyphs">40</text>
<line x1="316.40" y1="548.15" x2="319.40" y2="548.15" stroke="#000" stroke-width="1.0"/>
<text x="313.40" y="550.40" font-size="6.3" text-anchor="end" fill="#222" stroke="#222" stroke-width="0.1" textLength="6.70" lengthAdjust="spacingAndGlyphs">60</text>
<line x1="316.40" y1="522.10" x2="319.40" y2="522.10" stroke="#000" stroke-width="1.0"/>
<text x="313.40" y="524.35" font-size="6.3" text-anchor="end" fill="#222" stroke="#222" stroke-width="0.1" textLength="6.70" lengthAdjust="spacingAndGlyphs">80</text>
<line x1="318.80" y1="626.30" x2="423.90" y2="626.30" stroke="#000" stroke-width="1.2"/>
<line x1="336.80" y1="626.30" x2="336.80" y2="629.10" stroke="#000" stroke-width="1.0"/>
<line x1="370.60" y1="626.30" x2="370.60" y2="629.10" stroke="#000" stroke-width="1.0"/>
<line x1="404.80" y1="626.30" x2="404.80" y2="629.10" stroke="#000" stroke-width="1.0"/>
<rect x="326.40" y="547.40" width="10.10" height="78.90" fill="#000"/>
<line x1="331.50" y1="547.40" x2="331.50" y2="545.30" stroke="#000" stroke-width="1.1"/>
<line x1="329.00" y1="545.50" x2="333.80" y2="545.50" stroke="#000" stroke-width="1.1"/>
<rect x="338.20" y="591.00" width="10.20" height="35.30" fill="#24959b"/>
<line x1="343.50" y1="591.00" x2="343.50" y2="573.50" stroke="#24959b" stroke-width="1.1"/>
<line x1="340.90" y1="573.50" x2="345.70" y2="573.50" stroke="#24959b" stroke-width="1.1"/>
<rect x="360.20" y="588.80" width="10.00" height="37.50" fill="#000"/>
<line x1="365.50" y1="588.80" x2="365.50" y2="583.20" stroke="#000" stroke-width="1.1"/>
<line x1="362.80" y1="583.50" x2="367.60" y2="583.50" stroke="#000" stroke-width="1.1"/>
<rect x="372.30" y="595.10" width="10.00" height="31.20" fill="#24959b"/>
<line x1="377.50" y1="595.10" x2="377.50" y2="587.40" stroke="#24959b" stroke-width="1.1"/>
<line x1="374.90" y1="587.50" x2="379.70" y2="587.50" stroke="#24959b" stroke-width="1.1"/>
<rect x="394.00" y="622.30" width="10.00" height="4.00" fill="#000"/>
<line x1="399.50" y1="622.30" x2="399.50" y2="619.50" stroke="#000" stroke-width="1.1"/>
<line x1="396.60" y1="619.50" x2="401.40" y2="619.50" stroke="#000" stroke-width="1.1"/>
<rect x="405.60" y="568.00" width="10.40" height="58.30" fill="#24959b"/>
<line x1="410.50" y1="568.00" x2="410.50" y2="565.10" stroke="#24959b" stroke-width="1.1"/>
<line x1="408.40" y1="565.50" x2="413.20" y2="565.50" stroke="#24959b" stroke-width="1.1"/>
<polyline points="331.50,545.50 331.50,541.50 343.50,541.50 343.50,573.50" fill="none" stroke="#222" stroke-width="0.8"/>
<text x="337.35" y="541.13" font-size="5.4" text-anchor="middle" fill="#111" stroke="#111" stroke-width="0.15">***</text>
<polyline points="398.50,618.50 398.50,561.50 411.50,561.50 411.50,564.50" fill="none" stroke="#222" stroke-width="0.8"/>
<text x="404.70" y="561.73" font-size="5.4" text-anchor="middle" fill="#111" stroke="#111" stroke-width="0.15">****</text>
<rect x="362.40" y="528.50" width="15.70" height="3.90" fill="#000"/>
<text x="381.50" y="532.20" font-size="4.7" text-anchor="start" fill="#222" stroke="#222" stroke-width="0.2" textLength="11.10" lengthAdjust="spacingAndGlyphs">CTRL</text>
<rect x="362.40" y="540.70" width="15.70" height="3.90" fill="#24959b"/>
<text x="381.50" y="544.40" font-size="4.7" fill="#222" stroke="#222" stroke-width="0.2" textLength="14.00" lengthAdjust="spacingAndGlyphs">Wt1<tspan font-size="3.5" dy="-2.3">fl/+</tspan></text>
<text x="337.70" y="637.60" font-size="5.9" text-anchor="middle" fill="#222" stroke="#222" stroke-width="0.2">B220<tspan font-size="3.6" dy="-2.9">+</tspan></text>
<text x="370.60" y="637.60" font-size="5.9" text-anchor="middle" fill="#222" stroke="#222" stroke-width="0.2">CD3<tspan font-size="3.6" dy="-2.9">+</tspan></text>
<text x="405.10" y="637.60" font-size="5.9" text-anchor="middle" fill="#222" stroke="#222" stroke-width="0.2">Mac1<tspan font-size="3.6" dy="-2.9">+</tspan><tspan dy="2.9">Gr1</tspan><tspan font-size="3.6" dy="-2.9">+</tspan></text>
<text x="301.20" y="572.50" font-size="8.1" text-anchor="middle" fill="#222" stroke="#222" stroke-width="0.22" transform="rotate(-90 301.20 572.50)" textLength="92.00" lengthAdjust="spacingAndGlyphs">Positive cells in spleen (%)</text></svg></body></html>
